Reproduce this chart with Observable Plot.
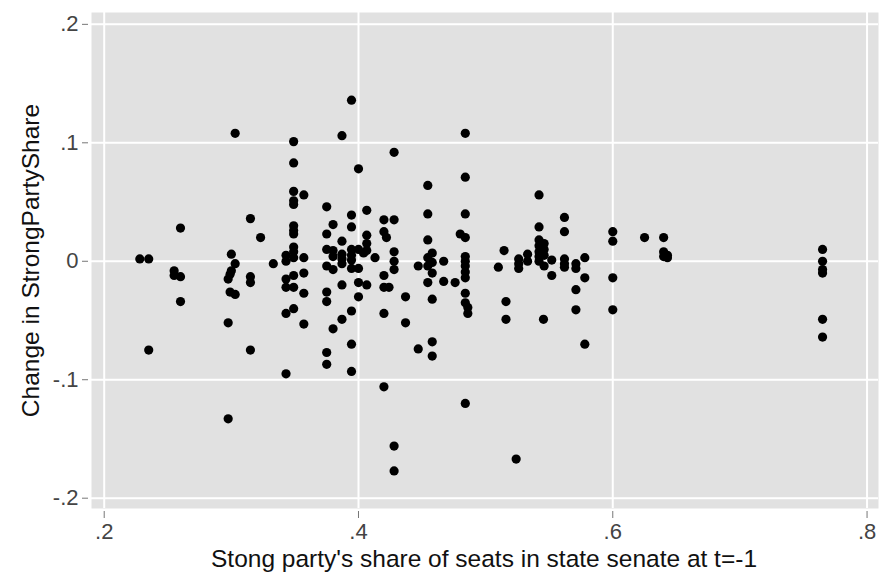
<!DOCTYPE html>
<html>
<head>
<meta charset="utf-8">
<script src="https://cdn.jsdelivr.net/npm/d3@7"></script>
<script src="https://cdn.jsdelivr.net/npm/@observablehq/plot@0.6"></script>
<style>
  html, body { margin: 0; padding: 0; background: white; }
  #chart { width: 881px; height: 579px; }
</style>
</head>
<body>
<div id="chart"></div>
<script>
// Strong party's share of senate seats at t-1 (x) and the change in StrongPartyShare (y)
const seatShare = [
  0.228,
  0.235, 0.235,
  0.255, 0.255,
  0.260, 0.260, 0.260,
  0.2975, 0.2975, 0.2975,
  0.299, 0.299,
  0.300, 0.300,
  0.303, 0.303, 0.303,
  0.315, 0.315, 0.315, 0.315,
  0.323,
  0.333,
  0.343, 0.343, 0.343, 0.343, 0.343, 0.343,
  0.349, 0.349, 0.349, 0.349, 0.349, 0.349, 0.349, 0.349, 0.349, 0.349, 0.349, 0.349, 0.349, 0.349,
  0.357, 0.357, 0.357, 0.357, 0.357,
  0.375, 0.375, 0.375, 0.375, 0.375, 0.375, 0.375, 0.375,
  0.380, 0.380, 0.380, 0.380, 0.380,
  0.387, 0.387, 0.387, 0.387, 0.387, 0.387, 0.387,
  0.3945, 0.3945, 0.3945, 0.3945, 0.3945, 0.3945, 0.3945, 0.3945, 0.3945, 0.3945,
  0.400, 0.400, 0.400, 0.400, 0.400,
  0.404,
  0.4065, 0.4065, 0.4065, 0.4065, 0.4065,
  0.413,
  0.420, 0.420, 0.420, 0.420, 0.420, 0.420,
  0.422,
  0.424,
  0.428, 0.428, 0.428, 0.428, 0.428, 0.428, 0.428,
  0.437, 0.437,
  0.447, 0.447,
  0.4545, 0.4545, 0.4545, 0.4545, 0.4545, 0.4545,
  0.458, 0.458, 0.458, 0.458, 0.458, 0.458,
  0.467, 0.467,
  0.476,
  0.480,
  0.484, 0.484, 0.484, 0.484, 0.484, 0.484, 0.484, 0.484, 0.484, 0.484, 0.484, 0.484,
  0.486, 0.486,
  0.510,
  0.5145,
  0.516, 0.516,
  0.524,
  0.526, 0.526, 0.526,
  0.533, 0.533,
  0.542, 0.542, 0.542, 0.542, 0.542, 0.542, 0.542,
  0.546, 0.546, 0.546, 0.546,
  0.5455,
  0.552, 0.552,
  0.562, 0.562, 0.562, 0.562, 0.562,
  0.571, 0.571, 0.571, 0.571,
  0.578, 0.578, 0.578,
  0.600, 0.600, 0.600, 0.600,
  0.625,
  0.640, 0.640, 0.640,
  0.643, 0.643,
  0.765, 0.765, 0.765, 0.765, 0.765, 0.765
];
const shareChange = [
  0.002,
  0.002, -0.075,
  -0.008, -0.012,
  0.028, -0.013, -0.034,
  -0.015, -0.052, -0.133,
  -0.011, -0.026,
  0.006, -0.008,
  0.108, -0.002, -0.028,
  0.036, -0.013, -0.018, -0.075,
  0.020,
  -0.002,
  0.005, 0.000, -0.015, -0.022, -0.044, -0.095,
  0.101, 0.083, 0.059, 0.051, 0.048, 0.030, 0.026, 0.023, 0.012, 0.008, 0.003, -0.012, -0.022, -0.040,
  0.056, 0.003, -0.010, -0.027, -0.053,
  0.046, 0.023, 0.010, -0.004, -0.026, -0.034, -0.077, -0.087,
  0.031, 0.009, 0.004, -0.007, -0.057,
  0.106, 0.017, 0.006, 0.002, -0.002, -0.020, -0.049,
  0.136, 0.039, 0.029, 0.010, 0.005, 0.001, -0.006, -0.042, -0.070, -0.093,
  0.078, 0.010, -0.006, -0.018, -0.030,
  0.007,
  0.043, 0.022, 0.015, 0.009, -0.020,
  0.003,
  0.035, 0.025, -0.012, -0.022, -0.044, -0.106,
  0.020,
  -0.022,
  0.092, 0.035, 0.008, 0.000, -0.007, -0.156, -0.177,
  -0.030, -0.052,
  -0.004, -0.074,
  0.064, 0.040, 0.018, 0.003, -0.004, -0.018,
  0.007, -0.001, -0.010, -0.032, -0.068, -0.080,
  0.000, -0.017,
  -0.018,
  0.023,
  0.108, 0.071, 0.040, 0.020, 0.004, 0.000, -0.004, -0.009, -0.014, -0.027, -0.035, -0.120,
  -0.039, -0.044,
  -0.005,
  0.009,
  -0.034, -0.049,
  -0.167,
  0.002, -0.002, -0.006,
  0.006, 0.000,
  0.056, 0.029, 0.018, 0.013, 0.008, 0.004, 0.000,
  0.015, 0.010, 0.005, -0.004,
  -0.049,
  0.001, -0.012,
  0.037, 0.025, 0.002, -0.002, -0.005,
  -0.002, -0.006, -0.024, -0.041,
  0.003, -0.014, -0.070,
  0.025, 0.017, -0.014, -0.041,
  0.020,
  0.020, 0.008, 0.004,
  0.005, 0.003,
  0.010, 0.000, -0.007, -0.010, -0.049, -0.064
];
const xTicks = [0.2, 0.4, 0.6, 0.8];
const yTicks = [-0.2, -0.1, 0, 0.1, 0.2];
const xTitle = "Stong party's share of seats in state senate at t=-1";
const yTitle = "Change in StrongPartyShare";

const data = seatShare.map((x, i) => ({x, y: shareChange[i]}));
const fmt = d => d === 0 ? "0" : String(d).replace("0.", ".");
const FONT = "'Liberation Sans', Arial, Helvetica, sans-serif";

const chart = Plot.plot({
  width: 881,
  height: 579,
  marginLeft: 91,
  marginRight: 3,
  marginTop: 12,
  marginBottom: 71,
  style: {fontFamily: FONT, background: "white", color: "#000"},
  x: {domain: [0.190, 0.809]},
  y: {domain: [-0.2087, 0.210]},
  marks: [
    Plot.frame({fill: "#e1e1e1", stroke: null}),
    Plot.gridX(xTicks, {stroke: "white", strokeOpacity: 1, strokeWidth: 2}),
    Plot.gridY(yTicks, {stroke: "white", strokeOpacity: 1, strokeWidth: 2}),
    Plot.dot(data, {x: "x", y: "y", r: 4.6, fill: "black", stroke: null}),
    Plot.axisX(xTicks, {tickFormat: fmt, tickSize: 7, tickPadding: 5, dy: 3, fontSize: 22, stroke: "#777", fill: "#444", label: null}),
    Plot.axisY(yTicks, {tickFormat: fmt, tickSize: 6, tickPadding: 4, dx: -3, fontSize: 22, stroke: "#777", fill: "#444", label: null}),
    Plot.text([xTitle], {frameAnchor: "bottom", dy: 51, dx: -1, textAnchor: "middle", lineAnchor: "middle", fontSize: 24.5, fill: "#111"}),
    Plot.text([yTitle], {frameAnchor: "left", rotate: -90, dx: -60, textAnchor: "middle", lineAnchor: "middle", fontSize: 24.5, fill: "#111"})
  ]
});
document.getElementById("chart").appendChild(chart);
</script>
</body>
</html>
